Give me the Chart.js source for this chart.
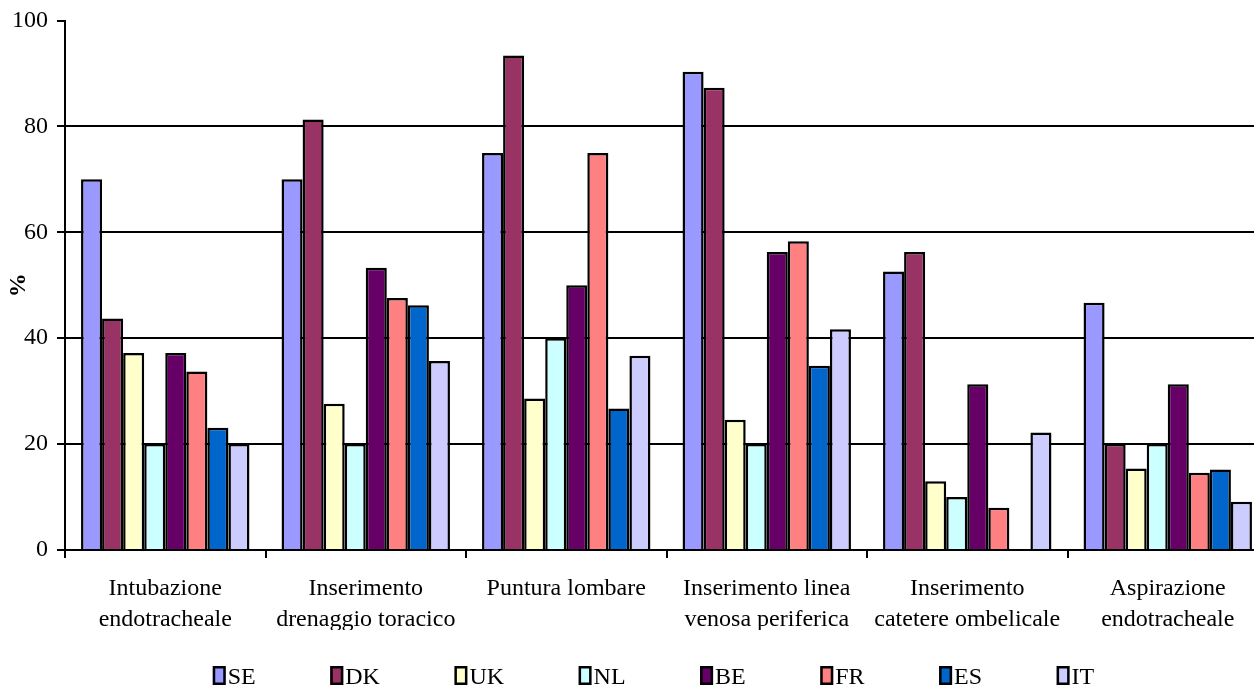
<!DOCTYPE html>
<html>
<head>
<meta charset="utf-8">
<script src="https://cdn.jsdelivr.net/npm/chart.js@4/dist/chart.umd.min.js"></script>
<style>
  html, body { margin: 0; padding: 0; background: #fff; overflow: hidden; }
  #wrap { position: absolute; left: 0; top: 0; width: 1270px; height: 687px; }
</style>
</head>
<body>
<div id="wrap"><canvas id="chart" width="1270" height="687"></canvas></div>
<script>
// Procedure categories (two-line labels)
const categories = [
  ["Intubazione", "endotracheale"],
  ["Inserimento", "drenaggio toracico"],
  ["Puntura lombare"],
  ["Inserimento linea", "venosa periferica"],
  ["Inserimento", "catetere ombelicale"],
  ["Aspirazione", "endotracheale"]
];

// Percentage per country, one value per category
const SE = [70, 70, 75, 90.3, 52.6, 46.7];
const DK = [43.7, 81.3, 93.4, 87.3, 56.3, 20];
const UK = [37.2, 27.6, 28.6, 24.6, 13, 15.4];
const NL = [20, 20, 40, 20, 10, 20];
const BE = [37.2, 53.3, 50, 56.3, 31.3, 31.3];
const FR = [33.7, 47.6, 75, 58.3, 8, 14.6];
const ES = [23.1, 46.2, 26.7, 34.8, 0, 15.2];
const IT = [20, 35.7, 36.7, 41.7, 22.2, 9.1];

const countries = ["SE", "DK", "UK", "NL", "BE", "FR", "ES", "IT"];
const seriesValues = [SE, DK, UK, NL, BE, FR, ES, IT];
const seriesColors = ["#9999FF", "#993366", "#FFFFCC", "#CCFFFF", "#660066", "#FF8080", "#0066CC", "#CCCCFF"];

const yTicks = [0, 20, 40, 60, 80, 100];

const serif = "'Liberation Serif', 'Times New Roman', serif";

// Legend row drawn below the axis labels: small boxed swatch followed by the country code
const rowLegend = {
  id: 'rowLegend',
  afterDraw(chart) {
    const ctx = chart.ctx;
    const fontSize = 24;
    const boxW = 13, boxH = 19, gap = 2, pad = 74.5;
    ctx.save();
    ctx.font = fontSize + "px " + serif;
    ctx.textBaseline = 'alphabetic';
    ctx.textAlign = 'left';
    const items = chart.data.datasets.map(ds => ({
      label: ds.label, color: ds.backgroundColor, w: ctx.measureText(ds.label).width
    }));
    let total = 0;
    items.forEach((it, i) => { total += boxW + gap + it.w + (i < items.length - 1 ? pad : 0); });
    const center = (chart.chartArea.left + chart.chartArea.right) / 2 - 13;
    let x = center - total / 2;
    const boxTop = 666, baseY = 684;
    items.forEach(it => {
      ctx.fillStyle = it.color;
      ctx.fillRect(x, boxTop, boxW, boxH);
      ctx.strokeStyle = '#000';
      ctx.lineWidth = 2.5;
      ctx.strokeRect(x + 1.25, boxTop + 1.25, boxW - 2.5, boxH - 2.5);
      ctx.fillStyle = '#000';
      ctx.fillText(it.label, x + boxW + gap, baseY);
      x += boxW + gap + it.w + pad;
    });
    ctx.restore();
  }
};

new Chart(document.getElementById('chart'), {
  type: 'bar',
  data: {
    labels: categories,
    datasets: countries.map((name, i) => ({
      label: name,
      data: seriesValues[i],
      backgroundColor: seriesColors[i],
      borderColor: '#000',
      borderWidth: 2.5,
      barPercentage: 1,
      categoryPercentage: 0.84
    }))
  },
  options: {
    responsive: false,
    animation: false,
    events: [],
    layout: { padding: { left: 0, right: 2, top: 20.5, bottom: 57 } },
    plugins: {
      legend: { display: false },
      tooltip: { enabled: false }
    },
    scales: {
      x: {
        offset: true,
        grid: {
          display: true,
          offset: true,
          drawOnChartArea: false,
          drawTicks: true,
          tickLength: 8,
          color: '#000',
          lineWidth: 2
        },
        border: { display: true, color: '#000', width: 2 },
        ticks: {
          color: '#000',
          padding: 15,
          maxRotation: 0,
          autoSkip: false,
          font: { family: serif, size: 24, lineHeight: 1.29 }
        },
        afterFit(scale) {
          scale.height = 80;
          scale.paddingLeft = 0;
          scale.paddingRight = 0;
        }
      },
      y: {
        min: 0,
        max: 100,
        afterBuildTicks(scale) { scale.ticks = yTicks.map(v => ({ value: v })); },
        grid: {
          color: ctx => (ctx.tick && ctx.tick.value === 100) ? 'rgba(0,0,0,0)' : '#000',
          tickColor: '#000',
          lineWidth: 2,
          drawTicks: true,
          tickLength: 8
        },
        border: { display: true, color: '#000', width: 2 },
        ticks: {
          color: '#000',
          padding: 9,
          font: { family: serif, size: 24 }
        },
        title: {
          display: true,
          text: '%',
          color: '#000',
          padding: { top: 4, bottom: 0 },
          font: { family: serif, size: 24, weight: 'bold' }
        },
        afterFit(scale) {
          scale.width = 65;
          scale.paddingTop = 0;
          scale.paddingBottom = 0;
        }
      }
    }
  },
  plugins: [rowLegend]
});
</script>
</body>
</html>
